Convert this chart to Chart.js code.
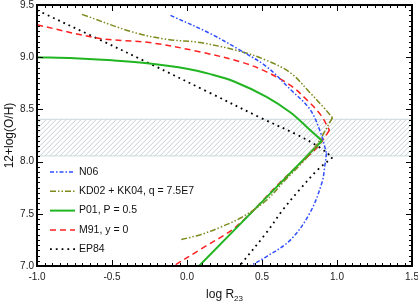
<!DOCTYPE html>
<html>
<head>
<meta charset="utf-8">
<script src="https://cdn.jsdelivr.net/npm/chart.js@4/dist/chart.umd.min.js"></script>
<style>
 body{margin:0;background:#fff;}
 #wrap{width:418px;height:305px;position:relative;}
</style>
</head>
<body>
<div id="wrap"><canvas id="chart"></canvas></div>
<script>
// tick labels
const xTicks = [-1.0, -0.5, 0.0, 0.5, 1.0, 1.5];
const yTicks = [7.0, 7.5, 8.0, 8.5, 9.0, 9.5];
// shaded band (12+log(O/H))
const bandLow = 8.05;
const bandHigh = 8.41;

// legend labels
const labels = ['N06', 'KD02 + KK04, q = 7.5E7', 'P01, P = 0.5', 'M91, y = 0', 'EP84'];

// N06
const n06UpX = [-0.11, 0.15, 0.35, 0.53, 0.69, 0.82, 0.89, 0.93];
const n06UpY = [9.40, 9.23, 9.07, 8.91, 8.69, 8.50, 8.28, 8.08];
const n06LoX = [0.93, 0.92, 0.90, 0.82, 0.69, 0.53, 0.42];
const n06LoY = [8.08, 7.97, 7.80, 7.51, 7.25, 7.09, 7.00];

// KD02 + KK04
const kdUpX = [-0.70, -0.36, -0.13, 0.09, 0.37, 0.53, 0.69, 0.82, 0.91, 0.97];
const kdUpY = [9.41, 9.24, 9.17, 9.14, 9.05, 8.97, 8.85, 8.66, 8.52, 8.42];
const kdLoX = [0.97, 0.84, 0.64, 0.53, 0.37, 0.22, 0.09, -0.05];
const kdLoY = [8.42, 8.11, 7.80, 7.63, 7.47, 7.37, 7.30, 7.25];

// P01
const p01UpX = [-1.0, -0.75, -0.50, -0.25, 0.0, 0.15, 0.31, 0.53, 0.69, 0.80, 0.90];
const p01UpY = [9.00, 8.99, 8.97, 8.94, 8.89, 8.84, 8.77, 8.62, 8.47, 8.33, 8.20];
const p01LoX = [0.90, 0.08];
const p01LoY = [8.20, 7.00];

// M91
const m91UpX = [-1.0, -0.58, -0.25, 0.09, 0.37, 0.53, 0.69, 0.80, 0.89, 0.95];
const m91UpY = [9.31, 9.18, 9.14, 9.05, 8.95, 8.86, 8.73, 8.59, 8.45, 8.30];
const m91LoX = [0.95, 0.87, 0.73, 0.62, 0.33, 0.09, -0.09];
const m91LoY = [8.30, 8.14, 7.95, 7.80, 7.38, 7.16, 7.00];

// EP84
const epUpX = [-1.0, -0.60, -0.25, 0.15, 0.49, 0.73, 0.88, 0.97];
const epUpY = [9.45, 9.18, 8.94, 8.66, 8.42, 8.26, 8.14, 8.04];
const epLoX = [0.97, 0.87, 0.75, 0.64, 0.53, 0.35];
const epLoY = [8.04, 7.92, 7.73, 7.54, 7.32, 7.00];

const styles = [
  {color: '#2f4fff', width: 1.5, dash: [4, 2, 1.5, 2]},
  {color: '#7f8a1e', width: 1.5, dash: [6, 2, 1.5, 2, 1.5, 2]},
  {color: '#22b522', width: 2, dash: []},
  {color: '#ff2020', width: 1.5, dash: [6, 4]},
  {color: '#000000', width: 1.8, dash: [1.8, 4]}
];

const branches = [
  [n06UpX, n06UpY, n06LoX, n06LoY],
  [kdUpX, kdUpY, kdLoX, kdLoY],
  [p01UpX, p01UpY, p01LoX, p01LoY],
  [m91UpX, m91UpY, m91LoX, m91LoY],
  [epUpX, epUpY, epLoX, epLoY]
];

function pts(xs, ys){ return xs.map((x, i) => ({x: x, y: ys[i]})); }

const datasets = [];
branches.forEach((b, k) => {
  const s = styles[k];
  [[b[0], b[1]], [b[2], b[3]]].forEach(pair => {
    datasets.push({
      label: labels[k],
      data: pts(pair[0], pair[1]),
      showLine: true,
      borderColor: s.color,
      borderWidth: s.width,
      borderDash: s.dash,
      pointRadius: 0,
      tension: 0.35,
      fill: false
    });
  });
});

const FONT = "'Liberation Sans', Arial, sans-serif";

const framePlugin = {
  id: 'frame',
  beforeDatasetsDraw(chart){
    const {ctx, chartArea: a, scales} = chart;
    const yt = scales.y.getPixelForValue(bandHigh);
    const yb = scales.y.getPixelForValue(bandLow);
    ctx.save();
    ctx.beginPath();
    ctx.rect(a.left, yt, a.right - a.left, yb - yt);
    ctx.clip();
    ctx.strokeStyle = '#c3d0d4';
    ctx.lineWidth = 1;
    for (let x = a.left - (yb - yt); x < a.right + 5; x += 5){
      ctx.beginPath();
      ctx.moveTo(x, yb);
      ctx.lineTo(x + (yb - yt), yt);
      ctx.stroke();
    }
    ctx.restore();
    ctx.save();
    ctx.strokeStyle = '#cdd8da';
    ctx.lineWidth = 1;
    ctx.beginPath();
    ctx.moveTo(a.left, yt + 0.5); ctx.lineTo(a.right, yt + 0.5);
    ctx.moveTo(a.left, yb - 0.5); ctx.lineTo(a.right, yb - 0.5);
    ctx.stroke();
    ctx.restore();
  },
  afterDatasetsDraw(chart){
    const {ctx, chartArea: a, scales} = chart;
    ctx.save();
    // box
    ctx.strokeStyle = '#000';
    ctx.lineWidth = 2;
    ctx.strokeRect(a.left, a.top, a.right - a.left, a.bottom - a.top);
    // inward ticks
    ctx.lineWidth = 1;
    ctx.beginPath();
    for (let i = 0; i <= 50; i++){
      const len = i % 10 === 0 ? 6 : 3;
      const py = Math.round(scales.y.getPixelForValue(7 + i * 0.05)) + 0.5;
      ctx.moveTo(a.left, py); ctx.lineTo(a.left + len, py);
      ctx.moveTo(a.right, py); ctx.lineTo(a.right - len, py);
      const px = Math.round(scales.x.getPixelForValue(-1 + i * 0.05)) + 0.5;
      ctx.moveTo(px, a.bottom); ctx.lineTo(px, a.bottom - len);
      ctx.moveTo(px, a.top); ctx.lineTo(px, a.top + len);
    }
    ctx.stroke();

    // legend
    ctx.font = '10.5px ' + FONT;
    ctx.textBaseline = 'middle';
    labels.forEach((t, k) => {
      const s = styles[k];
      const y = 172 + k * 19.3;
      ctx.strokeStyle = s.color;
      ctx.lineWidth = s.width;
      ctx.setLineDash(s.dash);
      ctx.beginPath();
      ctx.moveTo(50, y); ctx.lineTo(75, y);
      ctx.stroke();
      ctx.setLineDash([]);
      ctx.fillStyle = '#111';
      ctx.fillText(t, 79, y);
    });

    // axis titles
    ctx.fillStyle = '#111';
    ctx.font = '12px ' + FONT;
    ctx.textBaseline = 'middle';
    ctx.textAlign = 'center';
    ctx.save();
    ctx.translate(10, (a.top + a.bottom) / 2);
    ctx.rotate(-Math.PI / 2);
    ctx.fillText('12+log(O/H)', 0, 0);
    ctx.restore();

    const main = 'log R';
    const sub = '23';
    ctx.font = '12px ' + FONT;
    const w1 = ctx.measureText(main).width;
    ctx.font = '8px ' + FONT;
    const w2 = ctx.measureText(sub).width;
    const x0 = (a.left + a.right) / 2 - (w1 + w2) / 2;
    ctx.textAlign = 'left';
    ctx.font = '12px ' + FONT;
    ctx.fillText(main, x0, 295);
    ctx.font = '8px ' + FONT;
    ctx.fillText(sub, x0 + w1, 299);
    ctx.restore();
  }
};

const ctx = document.getElementById('chart');

new Chart(ctx, {
  type: 'scatter',
  data: { datasets: datasets },
  options: {
    responsive: true,
    maintainAspectRatio: false,
    animation: false,
    layout: { padding: {left: 0, top: 5, right: 6, bottom: 0} },
    plugins: { legend: {display: false}, tooltip: {enabled: false} },
    scales: {
      x: {
        type: 'linear', min: -1.0, max: 1.5,
        afterBuildTicks: s => { s.ticks = xTicks.map(v => ({value: v})); },
        afterFit: s => { s.height = 39; s.paddingLeft = 0; s.paddingRight = 0; },
        grid: {display: false, drawTicks: false}, border: {display: false},
        ticks: {callback: v => v.toFixed(1), color: '#222', padding: 5, font: {size: 10, family: FONT}, maxRotation: 0}
      },
      y: {
        type: 'linear', min: 7.0, max: 9.5,
        afterBuildTicks: s => { s.ticks = yTicks.map(v => ({value: v})); },
        afterFit: s => { s.width = 37; s.paddingTop = 0; s.paddingBottom = 0; },
        grid: {display: false, drawTicks: false}, border: {display: false},
        ticks: {callback: v => v.toFixed(1), color: '#222', padding: 3, font: {size: 10, family: FONT}}
      }
    }
  },
  plugins: [framePlugin]
});
</script>
</body>
</html>
